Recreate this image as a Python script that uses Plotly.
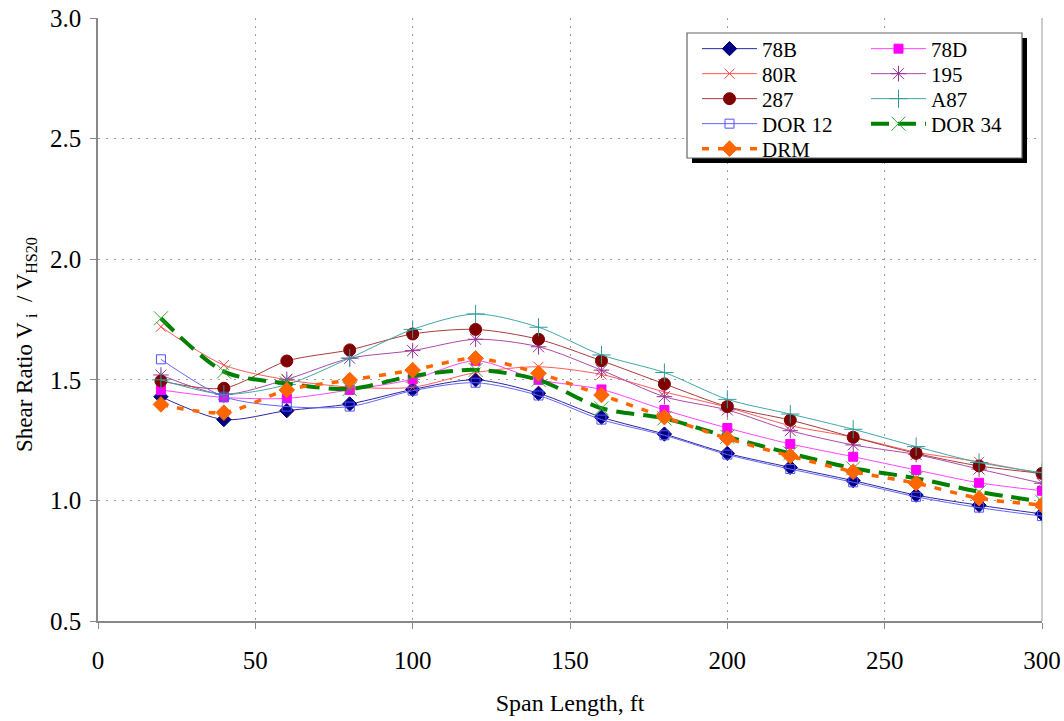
import plotly.graph_objects as go

span = [20, 40, 60, 80, 100, 120, 140, 160, 180, 200, 220, 240, 260, 280, 300]

v_78B = [1.43, 1.335, 1.372, 1.40, 1.46, 1.50, 1.444, 1.345, 1.275, 1.195, 1.137, 1.082, 1.022, 0.98, 0.944]
v_78D = [1.458, 1.427, 1.423, 1.458, 1.502, 1.579, 1.50, 1.46, 1.375, 1.30, 1.234, 1.181, 1.126, 1.073, 1.04]
v_80R = [1.72, 1.561, 1.50, 1.47, 1.469, 1.53, 1.554, 1.522, 1.45, 1.386, 1.31, 1.262, 1.20, 1.16, 1.11]
v_195 = [1.52, 1.44, 1.502, 1.589, 1.621, 1.668, 1.637, 1.54, 1.43, 1.375, 1.289, 1.23, 1.19, 1.13, 1.071]
v_287 = [1.495, 1.465, 1.578, 1.624, 1.69, 1.709, 1.668, 1.579, 1.483, 1.389, 1.333, 1.262, 1.195, 1.143, 1.112]
v_A87 = [1.50, 1.44, 1.48, 1.59, 1.709, 1.773, 1.718, 1.603, 1.53, 1.419, 1.358, 1.295, 1.223, 1.157, 1.115]
v_DOR12 = [1.585, 1.43, 1.389, 1.389, 1.455, 1.488, 1.435, 1.335, 1.27, 1.19, 1.13, 1.075, 1.015, 0.97, 0.935]
v_DOR34 = [1.755, 1.534, 1.485, 1.462, 1.516, 1.541, 1.50, 1.382, 1.34, 1.264, 1.195, 1.133, 1.092, 1.036, 0.995]
v_DRM = [1.398, 1.364, 1.458, 1.499, 1.54, 1.589, 1.527, 1.437, 1.345, 1.257, 1.184, 1.119, 1.071, 1.009, 0.981]

x_ticks = [0, 50, 100, 150, 200, 250, 300]
y_ticks = [0.5, 1.0, 1.5, 2.0, 2.5, 3.0]

FONT = "Liberation Serif, Times New Roman, serif"

# plot area in pixels (for placing the legend decoration)
L, R, T, B = 98, 1042, 18, 621
W, H = R - L, B - T


def px(x):
    return (x - L) / W


def py(y):
    return (B - y) / H


series = [
    # name, values, line color, line width, dash, marker symbol, marker color, marker size
    ("78B", v_78B, "#2a2a9a", 1, "solid", "diamond", "#000080", 11),
    ("78D", v_78D, "#ff44ff", 1, "solid", "square", "#ff00ff", 9),
    ("80R", v_80R, "#ff5a5a", 1, "solid", "x-thin-open", "#ff4040", 10),
    ("195", v_195, "#aa4aaa", 1, "solid", "asterisk-open", "#993399", 13),
    ("287", v_287, "#a83c3c", 1, "solid", "circle", "#800000", 12),
    ("A87", v_A87, "#40a8a8", 1, "solid", "cross-thin-open", "#2f9a9a", 13),
    ("DOR 12", v_DOR12, "#6464ff", 1, "solid", "square-open", "#5050ff", 9),
    ("DOR 34", v_DOR34, "#008000", 4, "18px,9px", "x-thin-open", "#33aa33", 14),
    ("DRM", v_DRM, "#ff6600", 3.5, "7px,9px", "diamond", "#ff6600", 12),
]

# legend item positions (two columns, filled row by row)
col_x = [697, 866]
row_y = [49, 74, 99, 124, 149]

fig = go.Figure()
legend_layout = {}
for i, (name, vals, lc, lw, dash, sym, mc, ms) in enumerate(series):
    key = "legend" if i == 0 else f"legend{i + 1}"
    fig.add_trace(go.Scatter(
        x=span, y=vals, name=name, mode="lines+markers",
        line=dict(color=lc, width=lw, dash=dash, shape="spline", smoothing=0.8),
        marker=dict(symbol=sym, color=mc, size=ms, line=dict(color=mc, width=1)),
        legend=key,
    ))
    legend_layout[key] = dict(
        x=px(col_x[i % 2]), y=py(row_y[i // 2]),
        xanchor="left", yanchor="middle",
        font=dict(family=FONT, size=21, color="black"),
        bgcolor="rgba(0,0,0,0)", borderwidth=0, itemwidth=55,
    )

fig.update_layout(
    width=1064, height=721,
    margin=dict(l=L, r=1064 - R, t=T, b=721 - B),
    paper_bgcolor="white", plot_bgcolor="white",
    font=dict(family=FONT, size=25, color="black"),
    showlegend=True,
    xaxis=dict(
        range=[0, 300], tickvals=x_ticks, ticktext=[str(v) for v in x_ticks],
        showgrid=True, gridcolor="#999999", griddash="2px,6px", gridwidth=1,
        showline=True, linecolor="#888888", linewidth=1.5,
        ticks="outside", ticklen=6, tickcolor="#888888",
        zeroline=False, ticklabelstandoff=10, automargin=False,
        title=dict(text="Span Length, ft", standoff=21, font=dict(size=24)),
    ),
    yaxis=dict(
        range=[0.5, 3.0], tickvals=y_ticks, ticktext=[f"{v:.1f}" for v in y_ticks],
        showgrid=True, gridcolor="#999999", griddash="2px,6px", gridwidth=1,
        showline=True, linecolor="#888888", linewidth=1.5,
        ticks="outside", ticklen=6, tickcolor="#888888",
        zeroline=False, ticklabelstandoff=4, automargin=False,
    ),
    annotations=[
        dict(text="Shear Ratio V<sub> i</sub>  / V<sub>HS20</sub>", textangle=-90,
             xref="paper", yref="paper", x=px(26), y=py(345),
             xanchor="center", yanchor="middle", showarrow=False,
             font=dict(family=FONT, size=23, color="black")),
    ],
    shapes=[
        dict(type="line", xref="paper", yref="paper", x0=1, x1=1, y0=0, y1=1,
             line=dict(color="#bbbbbb", width=1.5), layer="below"),
        dict(type="rect", xref="paper", yref="paper",
             x0=px(692), x1=px(1027), y0=py(163), y1=py(38),
             fillcolor="black", line=dict(width=0), layer="above"),
        dict(type="rect", xref="paper", yref="paper",
             x0=px(687), x1=px(1022), y0=py(158), y1=py(33),
             fillcolor="white", line=dict(color="#666666", width=1.2), layer="above"),
    ],
    **legend_layout,
)

fig.write_html(
    "out.html",
    config={"displayModeBar": False},
    post_script="document.body.style.margin='0';document.body.style.overflow='hidden';",
)
